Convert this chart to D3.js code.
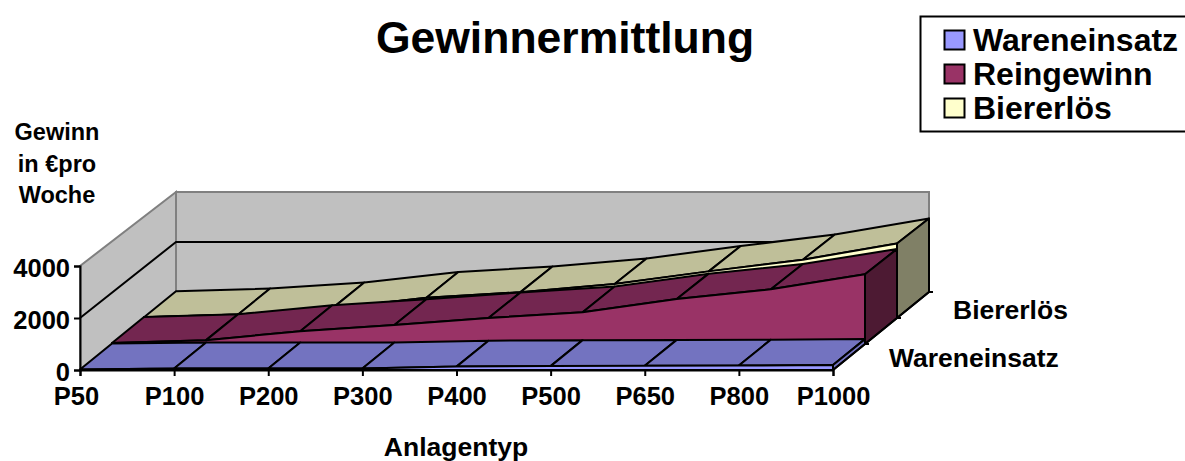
<!DOCTYPE html>
<html>
<head>
<meta charset="utf-8">
<script src="https://cdn.jsdelivr.net/npm/d3@7"></script>
<style>
  body { margin: 0; background: #fff; }
  text { font-family: "Liberation Sans", Arial, sans-serif; font-weight: bold; fill: #000; }
</style>
</head>
<body>
<div id="chart"></div>
<script>
var categories = ["P50", "P100", "P200", "P300", "P400", "P500", "P650", "P800", "P1000"]
var seriesNames = ["Wareneinsatz", "Reingewinn", "Biererlös"]
var depthLabels = ["Wareneinsatz", "Biererlös"]

var wareneinsatz = [20, 60, 60, 60, 130, 150, 160, 170, 190]
var reingewinn = [40, 150, 500, 740, 1010, 1240, 1750, 2130, 2720]
var biererloes = [30, 140, 380, 800, 1020, 1340, 1840, 2300, 2940]

var yTicks = [0, 2000, 4000]
var yTitle = ["Gewinn", "in €pro", "Woche"]

var faceColors = ["#9999FF", "#993366", "#FFFFCC"]
var topColors = ["#7373C0", "#732650", "#BFBF99"]
var sideColors = ["#7373C0", "#4D1A33", "#808066"]

var width = 1185, height = 461

var svg = d3.select("#chart").append("svg")
    .attr("width", width)
    .attr("height", height)

var x = d3.scalePoint().domain(categories).range([80, 833])
var y = d3.scaleLinear().domain([0, 4000]).range([370, 266])

// oblique depth, 0 = front of the floor, 1 = back wall
var depthX = d3.scaleLinear().domain([0, 1]).range([0, 96])
var depthY = d3.scaleLinear().domain([0, 1]).range([0, -78])
var heightAt = d3.scaleLinear().domain([0, 1]).range([1, 0.962])

function project(cat, value, z) {
  return [
    x(cat) + depthX(z),
    370 + depthY(z) + (y(value) - 370) * heightAt(z)
  ]
}

function poly(points) { return d3.line()(points) + "Z" }

var lastCat = categories[categories.length - 1]

// walls
var wall = svg.append("g")

wall.append("path")
    .attr("d", poly([project(categories[0], 0, 0), project(categories[0], 4000, 0), project(categories[0], 4000, 1), project(categories[0], 0, 1)]))
    .attr("fill", "#C0C0C0")
    .attr("stroke", "#808080")
    .attr("stroke-width", 2)

wall.append("path")
    .attr("d", poly([project(categories[0], 0, 1), project(categories[0], 4000, 1), project(lastCat, 4000, 1), project(lastCat, 0, 1)]))
    .attr("fill", "#C0C0C0")
    .attr("stroke", "#808080")
    .attr("stroke-width", 2)

wall.append("path")
    .attr("d", d3.line()([project(categories[0], 2000, 0), project(categories[0], 2000, 1), project(lastCat, 2000, 1)]))
    .attr("fill", "none")
    .attr("stroke", "#000")
    .attr("stroke-width", 2)

// one band per series, drawn back to front
var bands = [
  { values: biererloes, index: 2 },
  { values: reingewinn, index: 1 },
  { values: wareneinsatz, index: 0 }
]

bands.forEach(function(band) {
  var g = svg.append("g")
      .attr("stroke", "#000")
      .attr("stroke-width", 2)
      .attr("stroke-linejoin", "round")
  var z0 = band.index / 3
  var z1 = (band.index + 1) / 3

  // top surface, one quad per category step
  d3.pairs(categories.map(function(c, i) { return [c, band.values[i]] })).forEach(function(p) {
    g.append("path")
        .attr("d", poly([
          project(p[0][0], p[0][1], z0),
          project(p[1][0], p[1][1], z0),
          project(p[1][0], p[1][1], z1),
          project(p[0][0], p[0][1], z1)
        ]))
        .attr("fill", topColors[band.index])
  })

  // right side
  var endValue = band.values[band.values.length - 1]
  g.append("path")
      .attr("d", poly([
        project(lastCat, 0, z0),
        project(lastCat, endValue, z0),
        project(lastCat, endValue, z1),
        project(lastCat, 0, z1)
      ]))
      .attr("fill", sideColors[band.index])

  // front face
  var front = categories.map(function(c, i) { return project(c, band.values[i], z0) })
  front.push(project(lastCat, 0, z0))
  front.push(project(categories[0], 0, z0))
  g.append("path")
      .attr("d", poly(front))
      .attr("fill", faceColors[band.index])
})

// axes
var xAxis = svg.append("g")
    .attr("transform", "translate(0,370)")
    .call(d3.axisBottom(x).tickSize(6).tickPadding(10))

var yAxis = svg.append("g")
    .attr("transform", "translate(80,0)")
    .call(d3.axisLeft(y).tickValues(yTicks).tickSize(6).tickPadding(4).tickFormat(d3.format("d")))

;[xAxis, yAxis].forEach(function(a) {
  a.selectAll("path, line").attr("stroke", "#000").attr("stroke-width", 2)
  a.selectAll("text").style("font-size", "25.5px").attr("fill", "#000")
})
xAxis.selectAll("text").attr("dy", "0.75em")
xAxis.select(".tick text").attr("dx", "-4")
yAxis.selectAll("text").attr("dy", "0.4em")

var depthAxis = svg.append("g")
    .attr("stroke", "#000")
    .attr("stroke-width", 2)

depthAxis.append("path")
    .attr("d", d3.line()([project(lastCat, 0, 0), project(lastCat, 0, 1)]))

d3.range(1, 4).forEach(function(i) {
  var p = project(lastCat, 0, i / 3)
  depthAxis.append("line")
      .attr("x1", p[0]).attr("y1", p[1])
      .attr("x2", p[0] + 4).attr("y2", p[1])
})

svg.selectAll(".depth-label")
    .data(depthLabels)
    .join("text")
    .attr("class", "depth-label")
    .attr("x", function(d, i) { return i == 0 ? 889 : 953 })
    .attr("y", function(d, i) { return i == 0 ? 367 : 319 })
    .style("font-size", "26.5px")
    .text(function(d) { return d })

// titles
svg.append("text")
    .attr("x", 565)
    .attr("y", 53)
    .attr("text-anchor", "middle")
    .style("font-size", "44.5px")
    .text("Gewinnermittlung")

svg.append("text")
    .attr("x", 456)
    .attr("y", 456)
    .attr("text-anchor", "middle")
    .style("font-size", "26.5px")
    .text("Anlagentyp")

svg.selectAll(".y-title")
    .data(yTitle)
    .join("text")
    .attr("class", "y-title")
    .attr("x", 57)
    .attr("y", function(d, i) { return 140 + i * 31.5 })
    .attr("text-anchor", "middle")
    .style("font-size", "23.5px")
    .text(function(d) { return d })

// legend
var legend = svg.append("g")

legend.append("rect")
    .attr("x", 920.5)
    .attr("y", 16.5)
    .attr("width", 270)
    .attr("height", 115)
    .attr("fill", "#fff")
    .attr("stroke", "#000")
    .attr("stroke-width", 2)

var legendY = d3.scalePoint().domain(seriesNames).range([40, 108])

legend.selectAll("rect.swatch")
    .data(seriesNames)
    .join("rect")
    .attr("class", "swatch")
    .attr("x", 944.5)
    .attr("y", function(d) { return legendY(d) - 9.5 })
    .attr("width", 20)
    .attr("height", 19)
    .attr("fill", function(d, i) { return faceColors[i] })
    .attr("stroke", "#000")
    .attr("stroke-width", 2)

legend.selectAll("text")
    .data(seriesNames)
    .join("text")
    .attr("x", 973)
    .attr("y", function(d) { return legendY(d) + 11 })
    .style("font-size", "32px")
    .text(function(d) { return d })
</script>
</body>
</html>
